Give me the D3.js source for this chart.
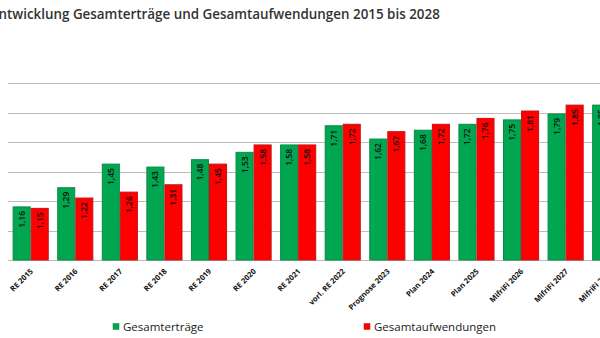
<!DOCTYPE html>
<html>
<head>
<meta charset="utf-8">
<script src="https://cdn.jsdelivr.net/npm/d3@7"></script>
<style>
  body { margin: 0; background: #fff; overflow: hidden; }
  text { font-family: "Open Sans", sans-serif; }
</style>
</head>
<body>
<div id="viz"></div>
<script>
const categories = ['RE 2015', 'RE 2016', 'RE 2017', 'RE 2018', 'RE 2019', 'RE 2020', 'RE 2021',
    'vorl. RE 2022', 'Prognose 2023', 'Plan 2024', 'Plan 2025', 'MifriFi 2026', 'MifriFi 2027', 'MifriFi 2028']
const ertraege = [1.16, 1.29, 1.45, 1.43, 1.48, 1.53, 1.58, 1.71, 1.62, 1.68, 1.72, 1.75, 1.79, 1.85]
const aufwendungen = [1.15, 1.22, 1.26, 1.31, 1.45, 1.58, 1.58, 1.72, 1.67, 1.72, 1.76, 1.81, 1.85, 1.89]
const seriesNames = ['Gesamterträge', 'Gesamtaufwendungen']
const yTicks = [0.8, 1.0, 1.2, 1.4, 1.6, 1.8, 2.0]

render = () => {
    const width = 600,
        height = 338

    const colors = {
        'Gesamterträge': { fill: '#00a650', stroke: '#0b8a45' },
        'Gesamtaufwendungen': { fill: '#ff0000', stroke: '#c4121a' }
    }

    const data = categories.map((c, i) => ({
        cat: c,
        values: [
            { key: seriesNames[0], value: ertraege[i] },
            { key: seriesNames[1], value: aufwendungen[i] }
        ]
    }))

    const svg = d3.select('#viz').append('svg')
        .attr('width', width)
        .attr('height', height)
        .attr('viewBox', [0, 0, width, height])

    // title (cut off at the left like the source image)
    svg.append('text')
        .attr('x', -9)
        .attr('y', 18.5)
        .attr('font-size', 13.4)
        .attr('font-weight', 600)
        .attr('fill', '#333')
        .text('Entwicklung Gesamterträge und Gesamtaufwendungen 2015 bis 2028')

    const x = d3.scaleBand()
        .domain(categories)
        .range([8.4, 632.5])
        .paddingInner(0.19)
        .paddingOuter(0.095)

    const x1 = d3.scaleBand()
        .domain(seriesNames)
        .range([0, x.bandwidth()])

    const y = d3.scaleLinear()
        .domain([0.8, 2.0])
        .range([260, 83])

    // gridlines
    svg.append('g')
        .selectAll('line').data(yTicks)
        .enter()
        .append('line')
        .attr('x1', 8)
        .attr('x2', 640)
        .attr('y1', d => Math.round(y(d)) + 0.5)
        .attr('y2', d => Math.round(y(d)) + 0.5)
        .attr('stroke', '#bdbdbd')
        .attr('stroke-width', 1)

    const groups = svg.append('g')
        .selectAll('g').data(data)
        .enter()
        .append('g')
        .attr('transform', d => `translate(${x(d.cat)},0)`)

    groups.selectAll('rect').data(d => d.values)
        .enter()
        .append('rect')
        .attr('x', d => x1(d.key) + 0.5)
        .attr('y', d => y(d.value))
        .attr('width', x1.bandwidth() - 1)
        .attr('height', d => y(0.8) - y(d.value))
        .attr('fill', d => colors[d.key].fill)
        .attr('stroke', d => colors[d.key].stroke)
        .attr('stroke-width', 1)

    // value labels, rotated inside the bar top
    groups.selectAll('text.val').data(d => d.values)
        .enter()
        .append('text')
        .attr('class', 'val')
        .attr('transform', d => `translate(${x1(d.key) + x1.bandwidth() / 2},${y(d.value) + 4}) rotate(-90)`)
        .attr('text-anchor', 'end')
        .attr('dy', '0.35em')
        .attr('font-size', 8.5)
        .attr('font-weight', 600)
        .attr('fill', '#111')
        .text(d => d3.format('.2f')(d.value).replace('.', ','))

    // category labels
    svg.append('g')
        .selectAll('text').data(categories)
        .enter()
        .append('text')
        .attr('transform', d => `translate(${x(d) + x.bandwidth() / 2 + 1},${270}) rotate(-45)`)
        .attr('text-anchor', 'end')
        .attr('dy', '0.35em')
        .attr('font-size', 7.6)
        .attr('font-weight', 700)
        .attr('fill', '#111')
        .text(d => d)

    // legend
    const legendPos = [113, 364]
    const legend = svg.append('g')
        .selectAll('g').data(seriesNames)
        .enter()
        .append('g')
        .attr('transform', (d, i) => `translate(${legendPos[i]},327)`)

    legend.append('rect')
        .attr('x', 0)
        .attr('y', -3.5)
        .attr('width', 6)
        .attr('height', 6)
        .attr('fill', d => colors[d].fill)
        .attr('stroke', d => colors[d].stroke)
        .attr('stroke-width', 0.5)

    legend.append('text')
        .attr('x', 10)
        .attr('y', 0)
        .attr('dy', '0.35em')
        .attr('font-size', 11.5)
        .attr('fill', '#222')
        .text(d => d)
}

render()
</script>
</body>
</html>
